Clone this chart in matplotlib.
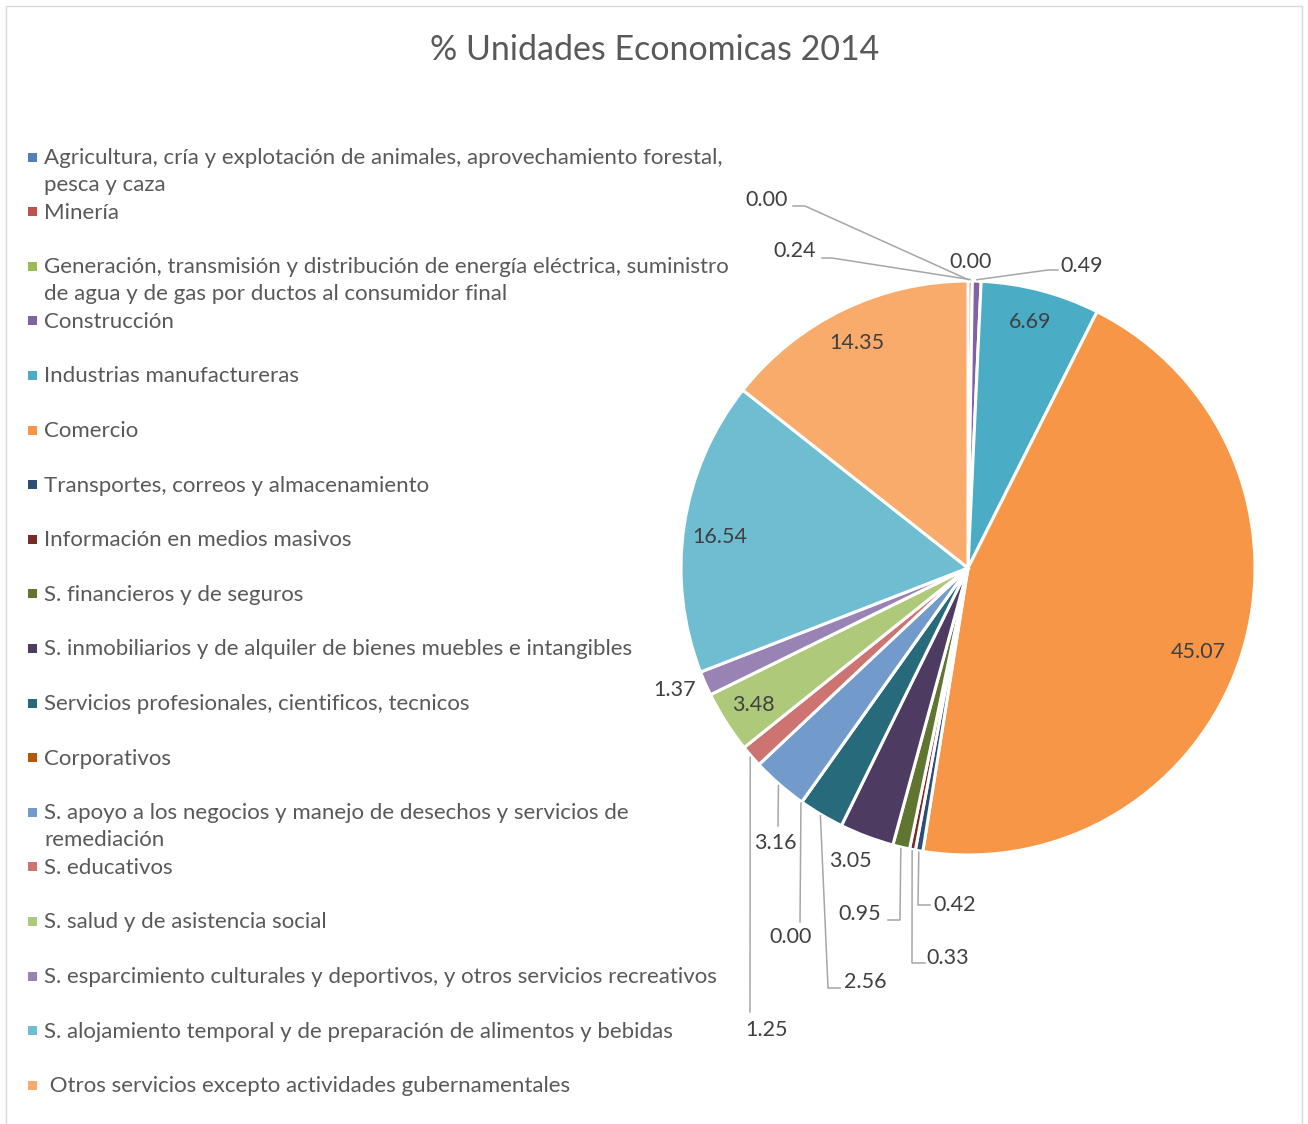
import numpy as np
import matplotlib
matplotlib.use("Agg")
import matplotlib.pyplot as plt
from matplotlib.patches import Rectangle

plt.rcParams['font.family'] = ['Lato', 'DejaVu Sans']

# ---- data -------------------------------------------------------------
sectors = [
    "Agricultura, cría y explotación de animales, aprovechamiento forestal,\npesca y caza",
    "Minería",
    "Generación, transmisión y distribución de energía eléctrica, suministro\nde agua y de gas por ductos al consumidor final",
    "Construcción",
    "Industrias manufactureras",
    "Comercio",
    "Transportes, correos y almacenamiento",
    "Información en medios masivos",
    "S. financieros y de seguros",
    "S. inmobiliarios y de alquiler de bienes muebles e intangibles",
    "Servicios profesionales, cientificos, tecnicos",
    "Corporativos",
    "S. apoyo a los negocios y manejo de desechos y servicios de\nremediación",
    "S. educativos",
    "S. salud y de asistencia social",
    "S. esparcimiento culturales y deportivos, y otros servicios recreativos",
    "S. alojamiento temporal y de preparación de alimentos y bebidas",
    " Otros servicios excepto actividades gubernamentales",
]
shares = [0.00, 0.24, 0.00, 0.49, 6.69, 45.07, 0.42, 0.33, 0.95, 3.05,
          2.56, 0.00, 3.16, 1.25, 3.48, 1.37, 16.54, 14.35]
colors = ["#4F81BD", "#C0504D", "#9BBB59", "#8064A2", "#4BACC6", "#F79646",
          "#2C4D75", "#772C2A", "#5F7530", "#4D3B62", "#276A7C", "#B65708",
          "#729ACA", "#CD7371", "#AFC97A", "#9983B5", "#6FBDD1", "#F9AB6B"]

# ---- layout (pixels, y measured from the top) -------------------------
W, H = 1308, 1124
CX, CY, R = 968, 568, 287

# label text centre and leader elbow points (None = no leader)
label_layout = [
    ((767, 200), [(805, 206), (793, 206)]),
    ((795, 251), [(832, 258), (822, 258)]),
    ((971, 262), None),
    ((1082, 266), [(1048, 270), (1058, 270)]),
    ((1030, 322), None),
    ((1198, 652), None),
    ((955, 905), [(918, 905), (930, 905)]),
    ((948, 958), [(912, 963), (925, 963)]),
    ((860, 914), [(900, 920), (888, 920)]),
    ((850, 861), None),
    ((865, 982), [(828, 988), (840, 988)]),
    ((791, 937), [(800, 922)]),
    ((775, 843), [(778, 826)]),
    ((767, 1030), [(750, 1012)]),
    ((753, 705), None),
    ((675, 690), None),
    ((720, 537), None),
    ((857, 343), None),
]

TXT = "#404040"
LEG = "#595959"
LINE = "#A6A6A6"


def fy(y):
    return H - y


fig = plt.figure(figsize=(W / 100, H / 100), dpi=100)
ax = fig.add_axes([0, 0, 1, 1])

# chart border (bottom edge falls outside the picture)
ax.add_patch(Rectangle((6, fy(1140)), 1296, 1134, fill=False,
                       edgecolor="#D9D9D9", linewidth=1.0, clip_on=False))

ax.text(655, fy(50), "% Unidades Economicas 2014", ha="center", va="center",
        fontsize=24.5, color=LEG)

wedges, _ = ax.pie(shares, colors=colors, startangle=90, counterclock=False,
                   center=(CX, fy(CY)), radius=R, frame=True,
                   wedgeprops=dict(edgecolor="white", linewidth=2.2))
ax.set_xlim(0, W)
ax.set_ylim(0, H)
ax.set_aspect("equal")
ax.axis("off")

# data labels with leader lines
for w, val, (pos, elbow) in zip(wedges, shares, label_layout):
    tx, ty = pos
    ax.text(tx, fy(ty), f"{val:.2f}", ha="center", va="center",
            fontsize=15.5, color=TXT)
    if elbow is None:
        continue
    mid = np.deg2rad((w.theta1 + w.theta2) / 2)
    ax_x = CX + R * 1.005 * np.cos(mid)
    ax_y = fy(CY) + R * 1.005 * np.sin(mid)
    xs = [ax_x] + [p[0] for p in elbow]
    ys = [ax_y] + [fy(p[1]) for p in elbow]
    ax.plot(xs, ys, color=LINE, linewidth=1.1, clip_on=False)

# legend
y0, step = 157, 54.6
for i, (name, c) in enumerate(zip(sectors, colors)):
    y = y0 + i * step
    ax.add_patch(Rectangle((28, fy(y) - 4.5), 9, 9, facecolor=c,
                           edgecolor="none"))
    ax.text(44, fy(y) + 9, name, ha="left", va="top", fontsize=16,
            color=LEG, linespacing=1.45)

fig.savefig("out.png", dpi=100)
